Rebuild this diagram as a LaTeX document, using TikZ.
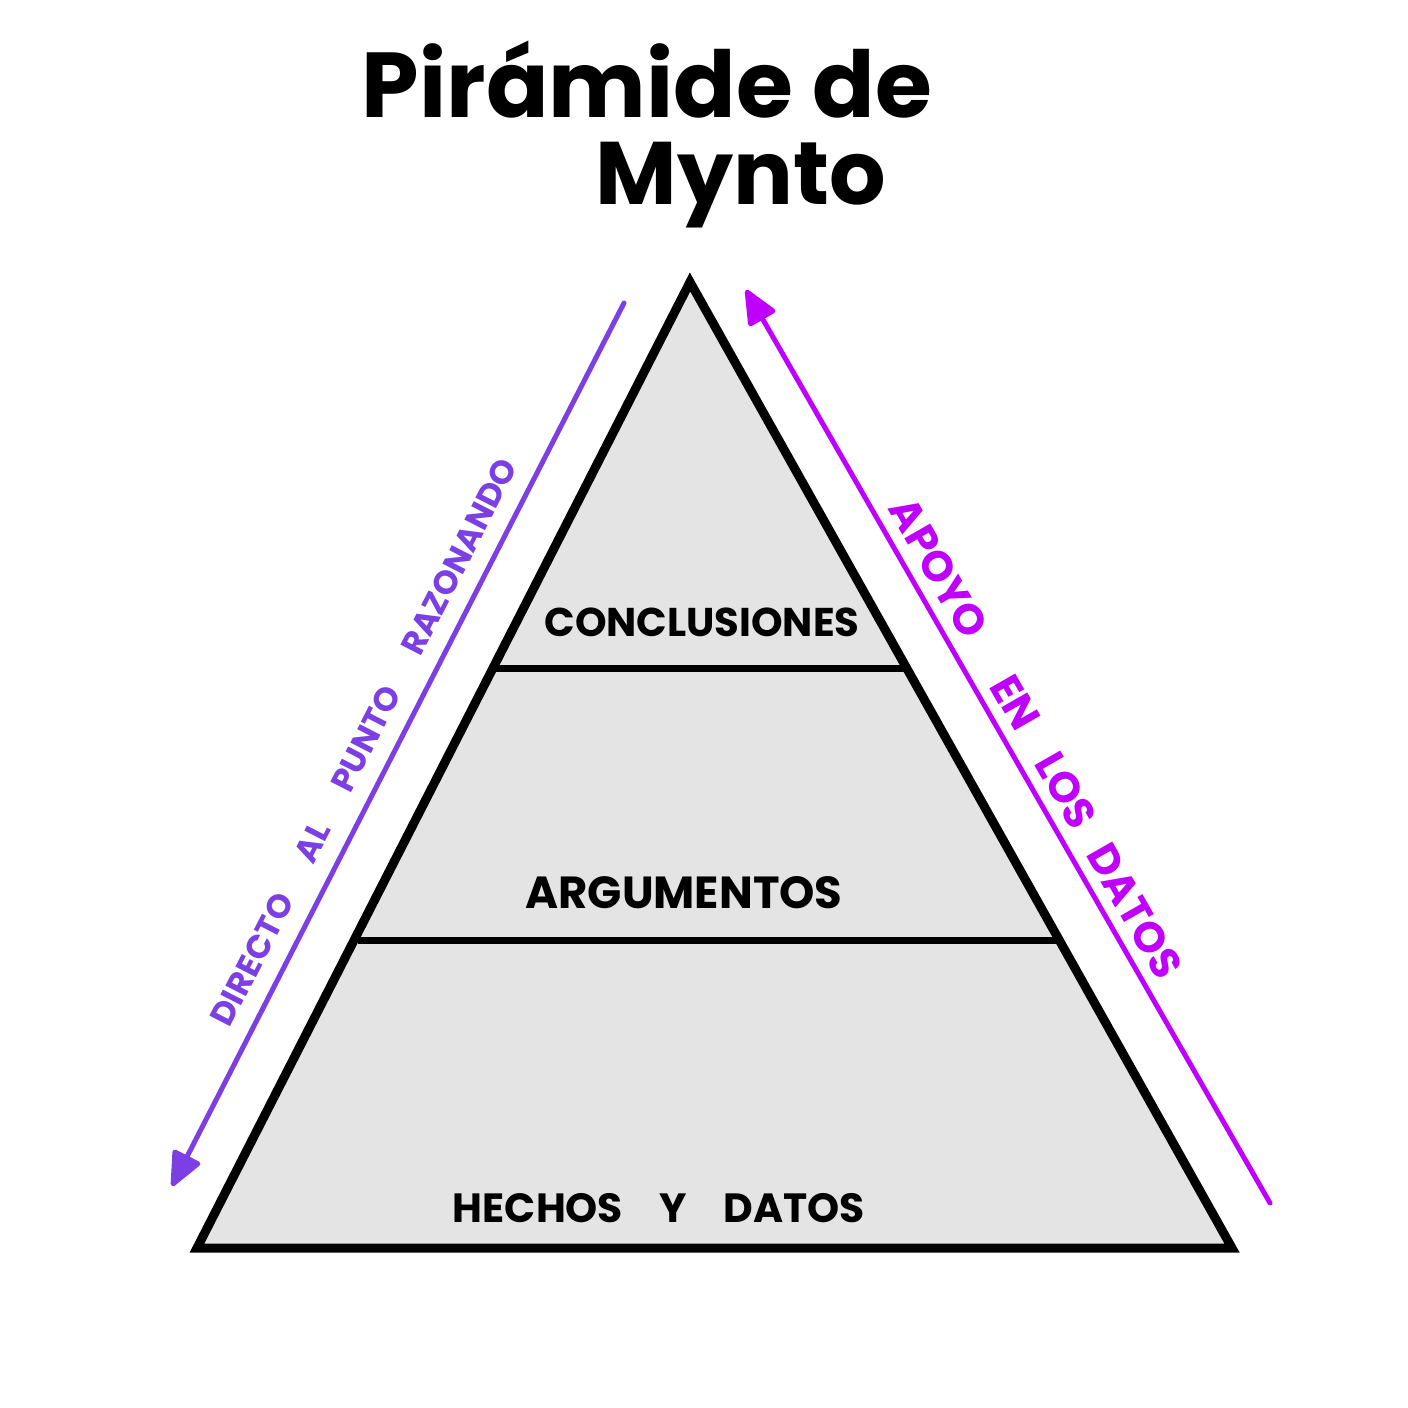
\documentclass[tikz,border=0pt]{standalone}
\usepackage{fontspec}
\usepackage{graphicx}
\setmainfont{Poppins}
\usetikzlibrary{arrows.meta}
\definecolor{pyrfill}{HTML}{E4E4E4}
\definecolor{leftpurple}{HTML}{7B3FE4}
\definecolor{rightmag}{HTML}{C000FF}
\tikzset{
  pyrline/.style={line width=9pt, line join=miter, line cap=round},
  levellabel/.style={inner sep=0pt, font=\bfseries},
  sidelabel/.style={inner sep=0pt, font=\bfseries},
  sidearrow/.style={line width=5pt, -{Triangle[length=38pt,width=32pt,round]}, line cap=round},
}
\begin{document}
\begin{tikzpicture}[x=1pt,y=-1pt]
\useasboundingbox[fill=white] (0,0) rectangle (1408,1408);

% title
\node[inner sep=0pt, font=\bfseries] (title1) at (647,80) {\resizebox{570pt}{!}{Pirámide de}};
\node[inner sep=0pt, font=\bfseries] (title2) at (741,185) {\resizebox{290pt}{!}{Mynto}};

% pyramid
\coordinate (apex) at (690,282);
\coordinate (bl) at (197,1248);
\coordinate (br) at (1232,1248);
\filldraw[pyrline, fill=pyrfill] (apex) -- (br) -- (bl) -- cycle;
\coordinate (m1l) at (496,668);
\coordinate (m1r) at (906,668);
\coordinate (m2l) at (358,940);
\coordinate (m2r) at (1057,940);
\draw[line width=7pt] (m1l) -- (m1r);
\draw[line width=7pt] (m2l) -- (m2r);

% level labels
\node[levellabel] (concl) at (702,622) {\resizebox{315pt}{!}{CONCLUSIONES}};
\node[levellabel] (argum) at (684,893) {\resizebox{317pt}{!}{ARGUMENTOS}};
\node[levellabel] (hechos) at (659,1208) {\resizebox{412pt}{!}{HECHOS\hspace{0.9em}Y\hspace{0.9em}DATOS}};

% left arrow
\coordinate (ls) at (624,303);
\coordinate (le) at (172,1186);
\draw[sidearrow, leftpurple] (ls) -- (le);
\node[sidelabel, text=leftpurple, rotate=62.8] (leftlab) at (364,742)
  {\resizebox{632pt}{!}{DIRECTO\hspace{1.2em}AL\hspace{1.2em}PUNTO\hspace{1.2em}RAZONANDO}};

% right arrow
\coordinate (rs) at (1270,1203);
\coordinate (re) at (746,290);
\draw[sidearrow, rightmag] (rs) -- (re);
\node[sidelabel, text=rightmag, rotate=-60.2] (rightlab) at (1036,738)
  {\resizebox{545pt}{!}{APOYO\hspace{1.2em}EN\hspace{0.8em}LOS\hspace{0.6em}DATOS}};
\end{tikzpicture}
\end{document}
